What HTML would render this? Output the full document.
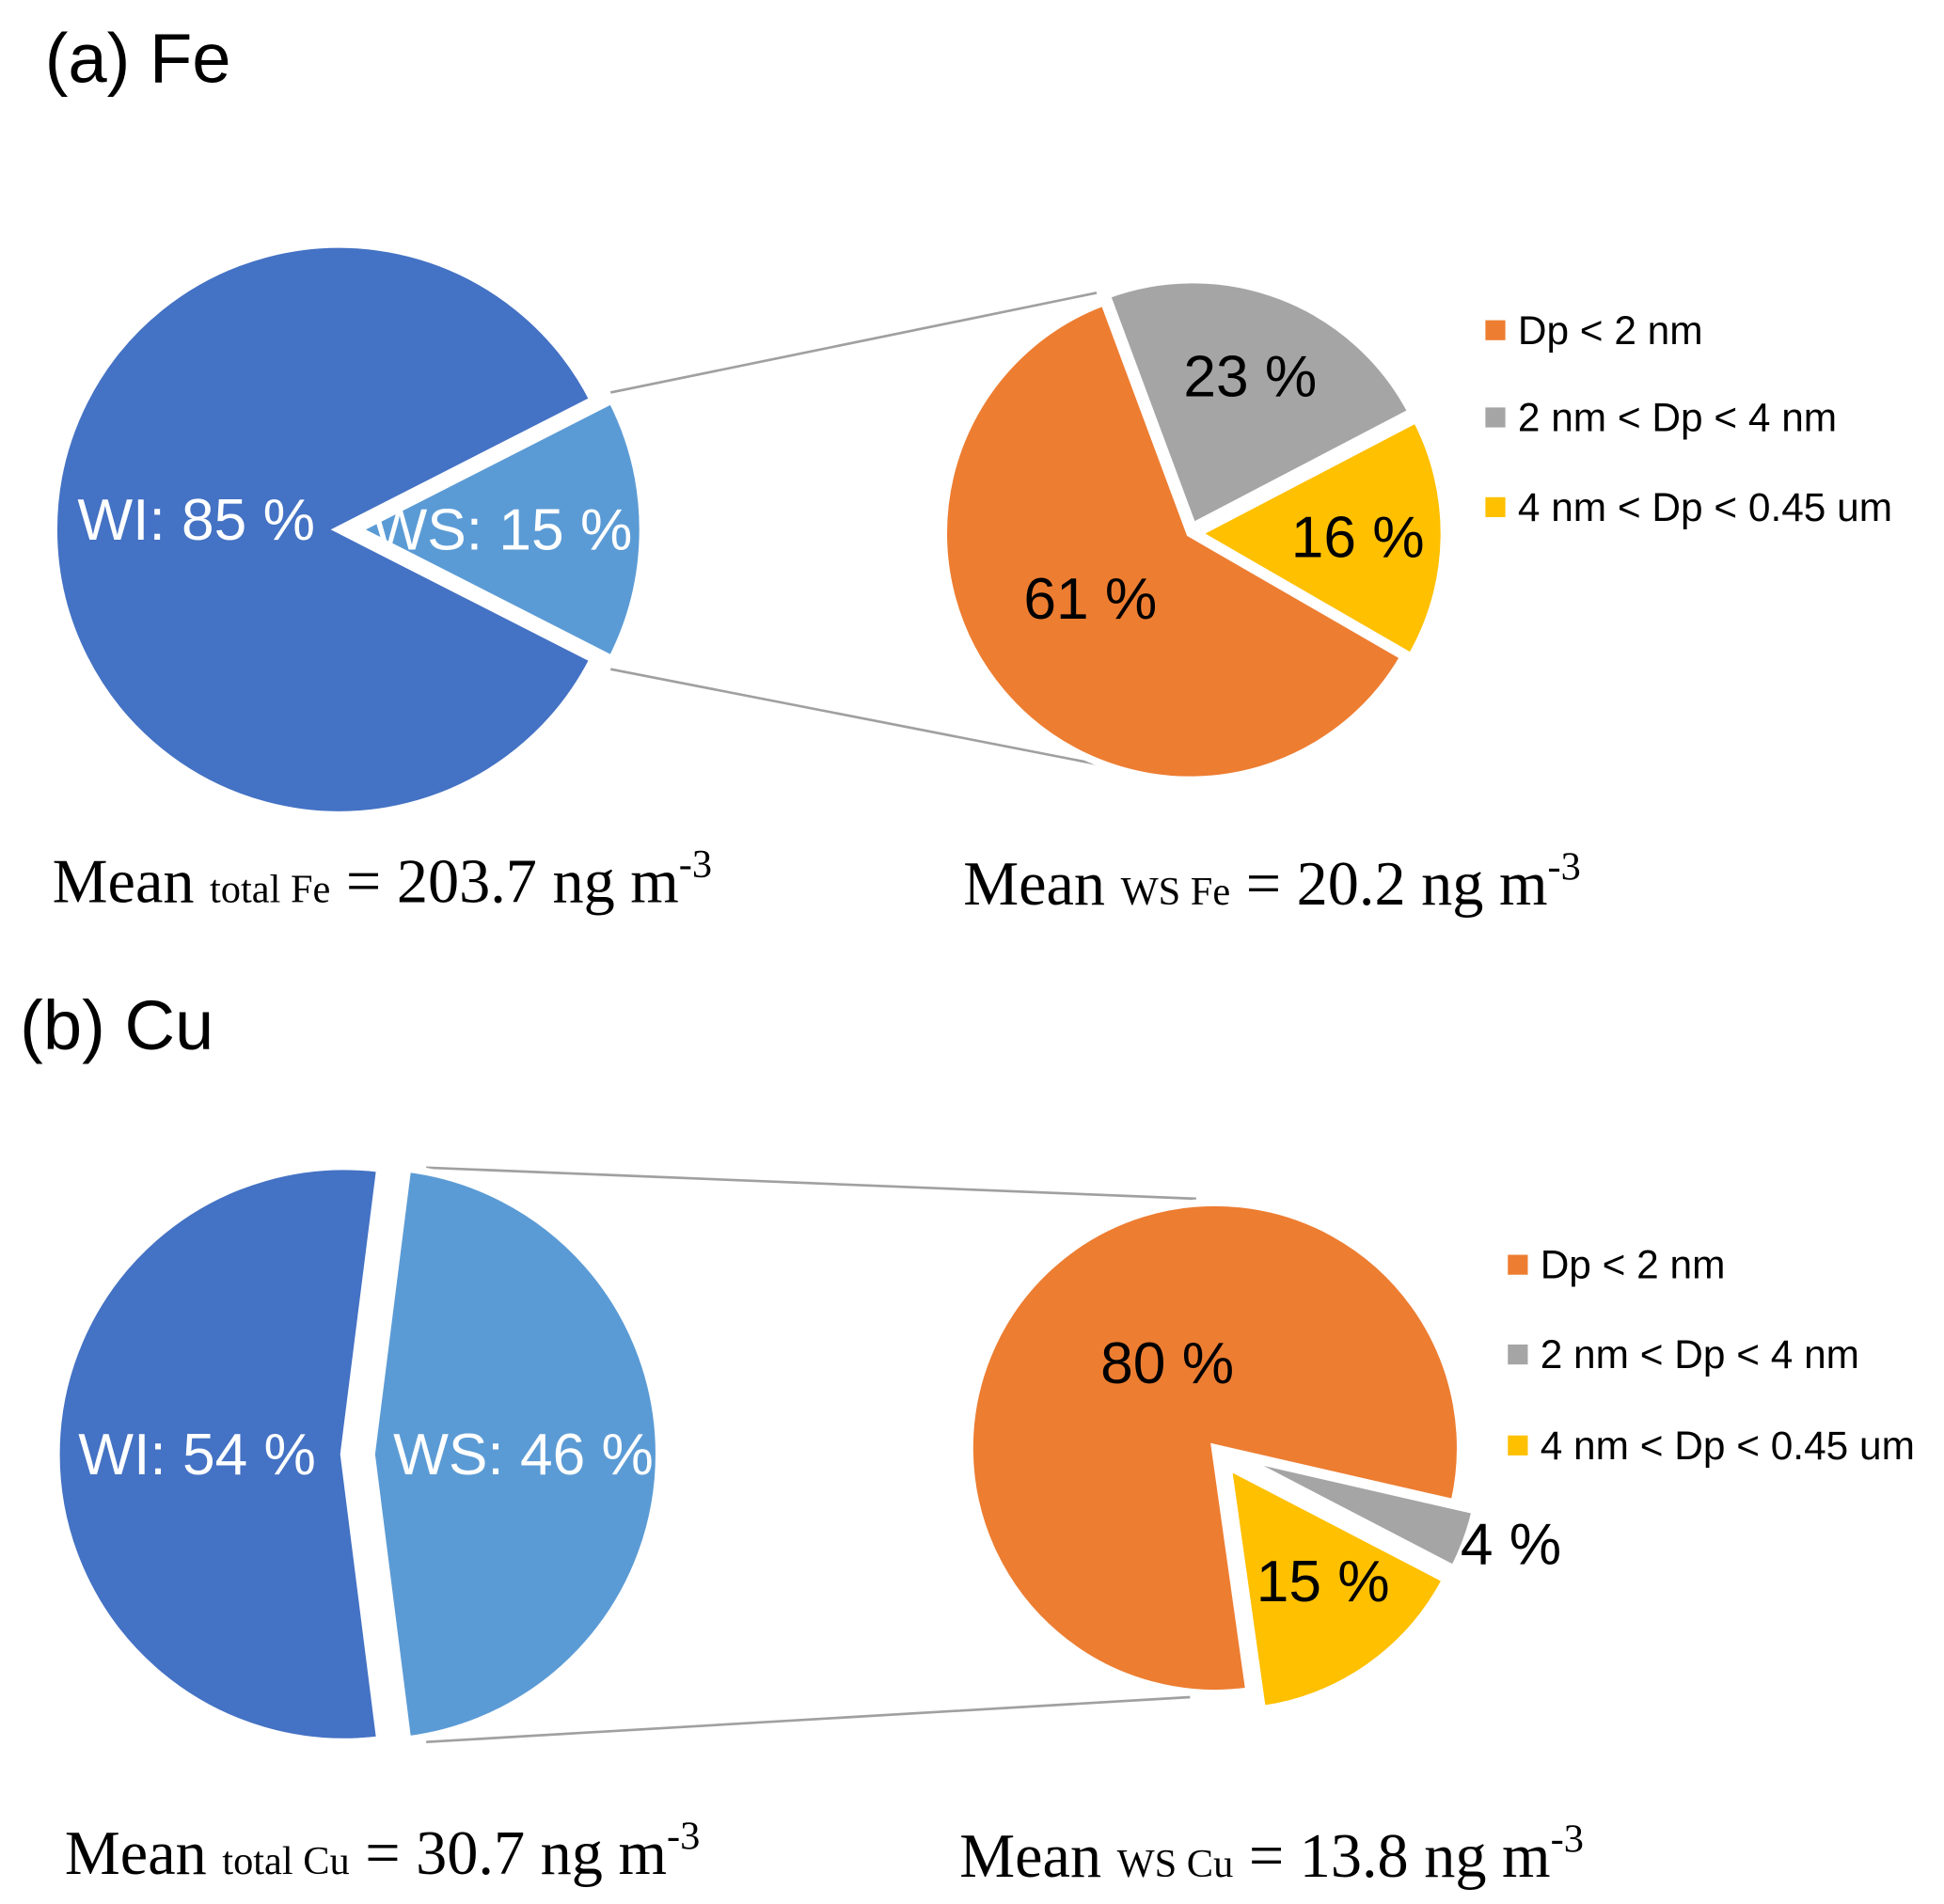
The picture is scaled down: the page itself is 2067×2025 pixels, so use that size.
<!DOCTYPE html>
<html><head><meta charset="utf-8">
<style>
html,body{margin:0;padding:0;background:#fff;}
svg{display:block;}
.sans{font-family:"Liberation Sans",Arial,sans-serif;}
.serif{font-family:"Liberation Serif","Times New Roman",serif;}
</style></head>
<body>
<svg id="chart" width="2067" height="2025" viewBox="0 0 1560 1528" preserveAspectRatio="none" xmlns="http://www.w3.org/2000/svg">
<rect width="1560" height="1528" fill="#fff"/>
<text class="sans" x="36" y="66" font-size="56" fill="#000">(a) Fe</text>
<text class="sans" x="16" y="842" font-size="56" fill="#000">(b) Cu</text>

<g id="connectors" stroke="#a0a0a0" stroke-width="2">
<line x1="490" y1="315" x2="880" y2="235"/>
<line x1="490" y1="537" x2="915" y2="620"/>
<line x1="342" y1="937" x2="960" y2="962"/>
<line x1="342" y1="1398" x2="955" y2="1362"/>
</g>
<g id="pies"></g>

<g class="sans" font-size="32" fill="#000">
<rect x="1192" y="257" width="16" height="16" fill="#ED7D31"/>
<text x="1218" y="276">Dp &lt; 2 nm</text>
<rect x="1192" y="327" width="16" height="16" fill="#A5A5A5"/>
<text x="1218" y="346">2 nm &lt; Dp &lt; 4 nm</text>
<rect x="1192" y="399" width="16" height="16" fill="#FFC000"/>
<text x="1218" y="418">4 nm &lt; Dp &lt; 0.45 um</text>
</g>
<g class="sans" font-size="32" fill="#000">
<rect x="1210" y="1007" width="16" height="16" fill="#ED7D31"/>
<text x="1236" y="1026">Dp &lt; 2 nm</text>
<rect x="1210" y="1079" width="16" height="16" fill="#A5A5A5"/>
<text x="1236" y="1098">2 nm &lt; Dp &lt; 4 nm</text>
<rect x="1210" y="1152" width="16" height="16" fill="#FFC000"/>
<text x="1236" y="1171">4 nm &lt; Dp &lt; 0.45 um</text>
</g>

<text class="serif" x="42" y="724" font-size="50" fill="#000">Mean <tspan font-size="32">total Fe</tspan> = 203.7 ng m<tspan font-size="32" dy="-20">-3</tspan></text>
<text class="serif" x="773" y="726" font-size="50" fill="#000">Mean <tspan font-size="32">WS Fe</tspan> = 20.2 ng m<tspan font-size="32" dy="-20">-3</tspan></text>
<text class="serif" x="52" y="1504" font-size="50" fill="#000">Mean <tspan font-size="32">total Cu</tspan> = 30.7 ng m<tspan font-size="32" dy="-20">-3</tspan></text>
<text class="serif" x="770" y="1506" font-size="50" fill="#000">Mean <tspan font-size="32">WS Cu</tspan> = 13.8 ng m<tspan font-size="32" dy="-20">-3</tspan></text>
</svg>
<script>
const feMainCategories = ["WI", "WS"];
const feMainValues = [85, 15];
const feSubCategories = ["Dp<2nm", "2nm<Dp<4nm", "4nm<Dp<0.45um"];
const feSubValues = [61, 23, 16];
const cuMainCategories = ["WI", "WS"];
const cuMainValues = [54, 46];
const cuSubCategories = ["Dp<2nm", "2nm<Dp<4nm", "4nm<Dp<0.45um"];
const cuSubValues = [80, 4, 15];

const NS = "http://www.w3.org/2000/svg";
const pies = document.getElementById("pies");
function pt(cx, cy, r, a) {
  const t = a * Math.PI / 180;
  return [cx + r * Math.sin(t), cy - r * Math.cos(t)];
}
function drawPie(name, cx, cy, r, cats, vals, start, colors, explode, labelOpts) {
  const g = document.createElementNS(NS, "g");
  
  
  pies.appendChild(g);
  const total = vals.reduce((a, b) => a + b, 0);
  let a0 = start;
  vals.forEach((v, i) => {
    const sweep = v / total * 360;
    const a1 = a0 + sweep;
    const mid = (a0 + a1) / 2;
    const off = pt(0, 0, explode[i], mid);
    const c = [cx + off[0], cy + off[1]];
    const p0 = pt(c[0], c[1], r, a0), p1 = pt(c[0], c[1], r, a1);
    const large = sweep > 180 ? 1 : 0;
    const path = document.createElementNS(NS, "path");
    path.setAttribute("d", `M${c[0]},${c[1]} L${p0[0]},${p0[1]} A${r},${r} 0 ${large} 1 ${p1[0]},${p1[1]} Z`);
    path.setAttribute("fill", colors[i]);
    path.setAttribute("stroke", "#fff");
    path.setAttribute("stroke-width", "6");
    path.setAttribute("stroke-linejoin", "miter");
    
    
    g.appendChild(path);
    const lo = labelOpts[i];
    const lp = pt(c[0], c[1], r * lo.rf, mid);
    const txt = document.createElementNS(NS, "text");
    txt.setAttribute("x", lp[0] + (lo.dx || 0));
    txt.setAttribute("y", lp[1] + 16 + (lo.dy || 0));
    txt.setAttribute("text-anchor", "middle");
    txt.setAttribute("class", "sans");
    txt.setAttribute("font-size", "47");
    txt.setAttribute("fill", lo.color);
    txt.textContent = (lo.prefix || "") + v + " %";
    
    
    g.appendChild(txt);
    a0 = a1;
  });
}
drawPie("fe-total-pie", 272, 425, 229, feMainCategories, feMainValues, 117,
  ["#4472C4", "#5B9BD5"], [0, 15],
  [{rf: 0.5, color: "#fff", prefix: "WI: ", dx: 0, dy: -8}, {rf: 0.55, color: "#fff", prefix: "WS: ", dx: -10}]);
drawPie("fe-ws-pie", 955, 428, 198, feSubCategories, feSubValues, 120,
  ["#ED7D31", "#A5A5A5", "#FFC000"], [0, 6, 6],
  [{rf: 0.45, color: "#000", dx: -12, dy: -5}, {rf: 0.65, color: "#000"}, {rf: 0.7, color: "#000", dx: -10}]);
drawPie("cu-total-pie", 276, 1167, 231, cuMainCategories, cuMainValues, 172.8,
  ["#4472C4", "#5B9BD5"], [0, 22],
  [{rf: 0.51, color: "#fff", prefix: "WI: ", dx: 0}, {rf: 0.58, color: "#fff", prefix: "WS: ", dx: -12}]);
drawPie("cu-ws-pie", 975, 1162, 197, cuSubCategories, cuSubValues, 172,
  ["#ED7D31", "#A5A5A5", "#FFC000"], [0, 18, 18],
  [{rf: 0.4, color: "#000", dx: 15, dy: -10}, {rf: 1.22, color: "#000", dx: -5, dy: -12}, {rf: 0.6, color: "#000", dx: 8, dy: -4}]);
</script>
</body></html>
